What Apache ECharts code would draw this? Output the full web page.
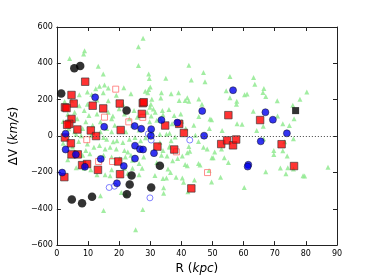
<!DOCTYPE html>
<html><head><meta charset="utf-8">
<script src="https://cdn.jsdelivr.net/npm/echarts@6/dist/echarts.min.js"></script>
<style>html,body{margin:0;padding:0;background:#fff}#c{width:374px;height:280px}</style>
</head><body><div id="c"></div>
<script>
const xTicks = [0,10,20,30,40,50,60,70,80,90];
const yTicks = [-600,-400,-200,0,200,400,600];

const green = [
[27.7,538],[26.2,491],[8.9,470],[8.6,452],[4.1,427],[13.3,384],[26.2,388],[42.4,389],[14.9,341],[29.5,341],
[35.0,318],[29.7,317],[43.2,309],[47.1,350],[47.6,299],[55.6,327],[63.2,322],[63.6,285],[66.5,261],[54.4,249],
[66.2,240],[55.6,211],[60.3,227],[61.1,231],[67.1,217],[80.3,242],[78.1,202],[70.8,194],[57.8,192],[57.7,175],
[45.6,204],[46.6,175],[75.8,170],[76.2,95],[45.6,108],[49.2,94],[49.7,90],[63.1,136],[70.9,111],[59.5,65],
[66.3,54],[72.6,67],[74.7,58],[49.0,42],[53.1,31],[64.2,31],[57.9,68],
[30.0,270],[29.5,256],[29.2,238],[33.6,238],[36.7,233],[39.1,238],[33.4,210],[39.3,195],[41.2,195],[42.4,192],
[30.2,175],[31.0,149],[31.6,131],[33.9,140],[34.1,117],[36.0,146],[37.7,113],[39.8,122],[29.8,78],[30.3,110],
[32.1,87],[33.3,95],[37.0,68],[40.1,81],[41.4,42],[44.0,60],[30.5,24],[33.1,10],[36.2,15],[41.9,211],
[15.3,281],[13.7,274],[16.5,265],[12.5,260],[9.8,242],[11.2,229],[7.2,227],[23.8,233],[21.5,266],[4.7,197],
[7.2,167],[5.7,131],[8.8,140],[10.3,113],[9.3,78],[12.9,122],[14.0,78],[16.5,131],[17.6,95],[18.6,60],
[16.0,42],[21.7,122],[23.3,95],[24.8,140],[25.8,104],[24.3,60],[29.0,131],[5.7,24],[8.3,42],[14.0,24],
[17.6,24],[22.2,24],[26.4,33],[14.9,238],[19.1,224],[16.5,194],[12.9,199],[21.2,175],[9.8,175],[28.4,247],
[30.5,202],[29.9,158],[2.5,190],[3.5,120],[2.0,80],[3.8,40],[6.5,95],[20.0,150],[18.0,110],[11.5,60],
[6.2,10],[7.8,1],[11.0,4],[15.0,-8],[16.0,-17],[18.1,-31],[19.3,-26],[21.2,-35],[23.3,-17],[25.1,-8],
[26.9,-26],[9.8,-44],[11.9,-62],[13.7,-52],[15.5,-71],[17.1,-62],[19.1,-71],[21.7,-79],[22.8,-88],[23.8,-106],
[27.9,-115],[9.3,-79],[10.6,-97],[8.3,-106],[15.0,-106],[17.6,-115],[20.2,-124],[22.0,-115],[24.3,-133],[26.4,-151],
[6.2,-174],[8.8,-177],[10.9,-186],[12.9,-213],[15.5,-213],[17.1,-218],[17.6,-186],[21.7,-177],[24.3,-177],[22.8,-204],
[26.4,-213],[27.4,-177],[14.0,-329],[15.0,-409],[25.3,-516],[27.6,-404],[22.2,-320],[20.7,-311],
[35.2,10],[36.7,-26],[33.1,-35],[36.2,-62],[34.1,-79],[33.6,-106],[35.4,-110],[32.1,-146],[38.8,-124],[36.5,-201],
[35.2,-231],[40.3,-231],[40.7,-254],[44.2,-242],[34.3,-285],[34.3,-315],[42.1,-306],[41.2,-156],[45.5,-151],[46.0,-159],
[48.9,-190],[49.7,-253],[52.6,-227],[42.4,-58],[42.7,-83],[47.1,-62],[48.3,-71],[50.7,-88],[50.2,-119],[53.8,-120],
[55.1,-146],[36.2,-56],[40.3,-110],[41.9,-92],[37.2,-136],[41.9,-163],[35.7,-181],[34.1,-234],[31.5,-217],[38.3,-226],
[52.9,-71],[49.8,-120],[60.2,-283],[67.1,-197],[69.7,-79],[69.7,-101],[72.6,-81],[74.0,-110],[73.2,-31],[76.0,-15],
[71.8,-176],[74.2,-174],[73.6,-208],[76.0,-181],[79.1,-218],[79.6,-220],[87.1,-172],[66.4,-15],
[44.5,5],[38.0,-5],[28.5,-10],[45.5,-30],[3.5,-130],[5.0,-60],[2.0,-40],[7.0,-30]
];
const redOpen = [[18.9,258],[15.3,104],[23.1,78],[27.6,103],[9.6,-20],[13.4,-140],[17.9,-140],[38.4,-87],[48.4,-201]];
const blueOpen = [[16.8,-283],[18.5,-276],[29.9,-340],[29.4,12],[30.3,-22],[42.7,-22]];
const red = [[9.1,299],[4.7,226],[5.4,179],[2.6,158],[3.1,154],[11.5,167],[14.9,152],[20.2,179],[27.6,181],[27.9,186],
[27.3,122],[4.7,94],[4.0,67],[3.3,62],[6.6,36],[10.9,31],[20.5,33],[34.8,58],[39.3,67],[12.6,0],
[40.8,17],[55.1,115],[65.3,88],[2.6,-8],[4.5,-40],[4.7,-101],[6.7,-101],[8.1,-160],[9.7,-154],[2.4,-226],
[13.2,-186],[19.7,-140],[20.3,-210],[32.3,-58],[37.7,-74],[43.2,-288],[52.8,-44],[54.7,-24],[56.6,-51],[57.6,-19],
[72.2,-45],[76.2,-165]];
const blue = [[12.3,213],[15.2,51],[25.0,55],[27.1,40],[30.3,38],[33.6,88],[38.7,74],[2.8,13],[30.2,1],[46.7,138],
[56.6,252],[67.0,131],[69.4,90],[73.9,15],[47.3,2],[65.5,-29],[61.5,-158],[61.3,-168],[1.7,-201],[2.8,-74],
[6.1,-101],[9.0,-169],[14.1,-126],[19.3,-260],[21.5,-165],[25.1,-53],[25.1,-124],[26.7,-72],[27.7,-74],[31.2,-94]];
const black = [[1.4,234],[5.6,373],[7.5,386],[22.4,140],[4.8,-349],[8.1,-370],[11.3,-334],[24.0,-217],[23.4,-266],[22.5,-320],[30.3,-283],[33.1,-163]];
const blackSquare = [[76.7,140]];

const chart = echarts.init(document.getElementById('c'), null, {renderer:'canvas'});
const axisCol = '#222';
const fam = 'DejaVu Sans';
function xa(pos, show){
  return {type:'value', position:pos, min:0, max:90, interval:10,
    axisLine:{show:true, onZero:false, lineStyle:{color:axisCol, width:1}},
    axisTick:{show:true, inside:true, length:4, lineStyle:{color:axisCol}},
    axisLabel:{show:show, color:'#000', fontSize:8, fontFamily:fam, margin:5},
    splitLine:{show:false}};
}
function ya(pos, show){
  return {type:'value', position:pos, min:-600, max:600, interval:200,
    axisLine:{show:true, onZero:false, lineStyle:{color:axisCol, width:1}},
    axisTick:{show:true, inside:true, length:4, lineStyle:{color:axisCol}},
    axisLabel:{show:show, color:'#000', fontSize:8, fontFamily:fam, margin:4,
      formatter:v=>String(v).replace('-','\u2212')},
    splitLine:{show:false}};
}
const x0 = xa('bottom', true);
x0.name = '{n|R (}{i|kpc}{n|)}';
x0.nameLocation = 'middle'; x0.nameGap = 16;
x0.nameTextStyle = {rich:{n:{fontSize:12, fontFamily:fam, color:'#000'}, i:{fontSize:12, fontFamily:fam, fontStyle:'italic', color:'#000'}}};
const y0 = ya('left', true);
y0.name = '{n|\u0394V (}{i|km/s}{n|)}';
y0.nameLocation = 'middle'; y0.nameGap = 26; y0.nameRotate = 90;
y0.nameTextStyle = {rich:{n:{fontSize:12, fontFamily:fam, color:'#000'}, i:{fontSize:12, fontFamily:fam, fontStyle:'italic', color:'#000'}}};

chart.setOption({
  animation:false,
  backgroundColor:'#fff',
  grid:{left:47, top:27, width:290, height:224},
  xAxis:[x0, xa('top', false)],
  yAxis:[y0, ya('right', false)],
  series:[
    {type:'scatter', data:green, symbol:'triangle', symbolSize:5,
     itemStyle:{color:'#92ea92', opacity:0.85},
     markLine:{silent:true, symbol:['none','none'], label:{show:false},
       lineStyle:{color:'#444', type:[1,2], width:1}, data:[{yAxis:0}]}},
    {type:'scatter', data:redOpen, symbol:'rect', symbolSize:6,
     itemStyle:{color:'rgba(255,255,255,0)', borderColor:'#ff7070', borderWidth:1}},
    {type:'scatter', data:blueOpen, symbol:'circle', symbolSize:6,
     itemStyle:{color:'rgba(255,255,255,0)', borderColor:'#6060ff', borderWidth:1}},
    {type:'scatter', data:red, symbol:'rect', symbolSize:7.5,
     itemStyle:{color:'#ff0000', borderColor:'#333', borderWidth:0.8}},
    {type:'scatter', data:blue, symbol:'circle', symbolSize:7,
     itemStyle:{color:'#0000ee', borderColor:'#111', borderWidth:0.6}},
    {type:'scatter', data:black, symbol:'circle', symbolSize:8.5,
     itemStyle:{color:'#000'}},
    {type:'scatter', data:blackSquare, symbol:'rect', symbolSize:7,
     itemStyle:{color:'#000'}}
  ]
});
</script></body></html>
